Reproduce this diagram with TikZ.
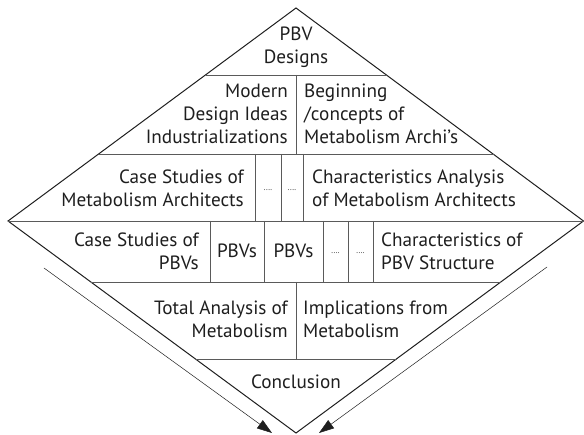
\documentclass[tikz,border=0pt]{standalone}
\usepackage{fontspec}
\setmainfont{PT Sans}
\usepackage{xcolor}
\usepackage{tikz}
\usetikzlibrary{arrows.meta}
\definecolor{rule}{HTML}{5A5A5A}
\definecolor{ink}{HTML}{1E1E1E}

\begin{document}
\begin{tikzpicture}[x=1pt,y=-1pt,
  lbl/.style={inner sep=0pt,text=ink,font=\fontsize{19.2}{23}\selectfont},
  lft/.style={lbl,anchor=east,align=right},
  rgt/.style={lbl,anchor=west,align=left},
  dots/.style={inner sep=0pt,text=ink,font=\fontsize{8}{9}\selectfont},
  edge/.style={ink,line width=1pt,line join=miter},
  sep/.style={rule,line width=0.7pt},
  arr/.style={-{Triangle[length=15pt,width=10pt]},ink,line width=0.5pt}]
\useasboundingbox (0,0) rectangle (584,435);
\coordinate (top) at (296,8);
\coordinate (left) at (8,221);
\coordinate (right) at (583.5,221);
\coordinate (bot) at (296,433);
\draw[edge] (top)--(right)--(bot)--(left)--cycle;
\draw[sep] (205.5,75)--(386.5,75);
\draw[sep] (98.5,154)--(493.5,154);
\draw[sep] (left)--(right);
\draw[sep] (91,282)--(501,282);
\draw[sep] (195.5,359)--(396.5,359);
\draw[sep] (296,75)--(296,154);
\foreach \x in {255,281,303}
  \draw[sep] (\x,154)--(\x,221);
\foreach \x in {210,264,323,348,373}
  \draw[sep] (\x,221)--(\x,282);
\draw[sep] (296,282)--(296,359);
\node[lbl,align=center] (pbv) at (296,47) {PBV\\Designs};
\node[lft] (modern) at (288,114) {Modern\\Design Ideas\\Industrializations};
\node[rgt] (begin) at (304,114) {Beginning\\/concepts of\\Metabolism Archi’s};
\node[lft] (casearch) at (244,188) {Case Studies of\\Metabolism Architects};
\node[dots] (dot1) at (268,190) {....};
\node[dots] (dot2) at (292,190) {....};
\node[rgt] (chararch) at (312,188) {Characteristics Analysis\\of Metabolism Architects};
\node[lft] (casepbv) at (199,251) {Case Studies of\\PBVs};
\node[lbl] (pbvs1) at (237,251) {PBVs};
\node[lbl] (pbvs2) at (293.5,251) {PBVs};
\node[dots] (dot3) at (335.5,253) {....};
\node[dots] (dot4) at (360.5,253) {....};
\node[rgt] (charpbv) at (381,251) {Characteristics of\\PBV Structure};
\node[lft] (total) at (288,319) {Total Analysis of\\Metabolism};
\node[rgt] (implic) at (303,319) {Implications from\\Metabolism};
\node[lbl] (concl) at (296,382) {Conclusion};
\coordinate (la) at (44,268);
\coordinate (lb) at (272,433);
\coordinate (ra) at (547,267);
\coordinate (rb) at (319,433);
\draw[arr] (la)--(lb);
\draw[arr] (ra)--(rb);
\end{tikzpicture}
\end{document}
